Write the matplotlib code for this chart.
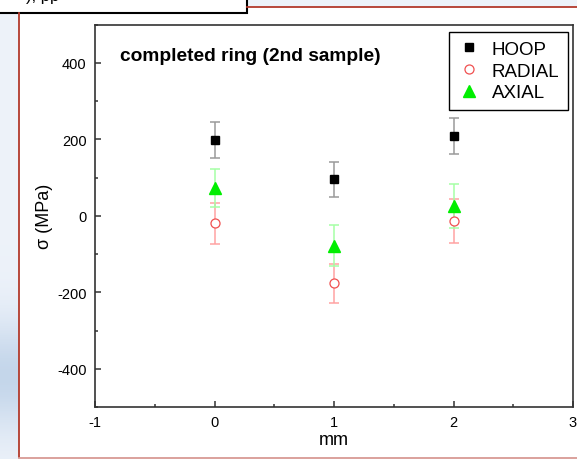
import matplotlib.pyplot as plt
import matplotlib.patches as patches
import numpy as np

plt.rcParams['font.family'] = ['Liberation Sans', 'DejaVu Sans']
plt.rcParams['axes.unicode_minus'] = False

# Measured stresses along the ring [MPa]
positions = [0, 1, 2]  # [mm]
hoop = [198, 95, 208]
hoop_err = [46, 46, 47]
radial = [-20, -177, -14]
radial_err = [53, 51, 57]
axial = [72, -78, 25]
axial_err = [50, 53, 57]

W, H = 577, 460
fig = plt.figure(figsize=(W / 100, H / 100), dpi=100, facecolor='white')

# Slide background in pixel coordinates
bg = fig.add_axes([0, 0, 1, 1], zorder=-1)
bg.set_xlim(0, W)
bg.set_ylim(H, 0)
bg.axis('off')

# left bluish strip, a bit darker towards the bottom
shade = np.linspace(0, 1, 200)
shade = np.exp(-((shade - 0.82) / 0.12) ** 2)
strip = np.zeros((200, 1, 3))
strip[:, 0, 0] = 0.93 - 0.16 * shade
strip[:, 0, 1] = 0.95 - 0.11 * shade
strip[:, 0, 2] = 0.98 - 0.06 * shade
bg.imshow(strip, extent=(0, 18.5, H, 0), aspect='auto')
bg.add_patch(patches.Rectangle((247, 0), W - 247, 7.5, color='#edf3fa', lw=0))

# red frame lines
bg.plot([247, W], [7.5, 7.5], color='#b23a2c', lw=1.3)
bg.plot([19, 19], [14, 458], color='#b23a2c', lw=1.3)
bg.plot([19, W], [458.5, 458.5], color='#d89a94', lw=1.3)

# caption box at the top left
bg.add_patch(patches.Rectangle((-2, -2), 249, 16, facecolor='white',
                               edgecolor='black', lw=1.5))
bg.text(26, 1.5, '), pp', fontsize=12, va='baseline', ha='left')

# Main plot
ax = fig.add_axes([95 / W, 1 - 408 / H, (573 - 95) / W, (408 - 25.5) / H])
ax.set_facecolor('white')

ax.errorbar(positions, hoop, yerr=hoop_err, fmt='none', ecolor='#9a9a9a',
            elinewidth=1.1, capsize=3.5, capthick=1.1, zorder=2)
ax.errorbar(positions, radial, yerr=radial_err, fmt='none', ecolor='#ffa3a3',
            elinewidth=1.1, capsize=3.5, capthick=1.1, zorder=2)
ax.errorbar(positions, axial, yerr=axial_err, fmt='none', ecolor='#a6ffa6',
            elinewidth=1.1, capsize=3.5, capthick=1.1, zorder=2)

ax.plot(positions, hoop, 's', color='black', ms=5.5, label='HOOP', zorder=3)
ax.plot(positions, radial, 'o', mfc='white', mec='#f05050', mew=0.9,
        ms=6.5, label='RADIAL', zorder=3)
ax.plot(positions, axial, '^', color='#00ee00', ms=8, label='AXIAL', zorder=3)

ax.set_xlim(-1, 3)
ax.set_ylim(-500, 500)
ax.set_xticks([-1, 0, 1, 2, 3])
ax.set_yticks([-400, -200, 0, 200, 400])
ax.set_xticks(np.arange(-0.5, 3, 1), minor=True)
ax.set_yticks(np.arange(-500, 501, 100), minor=True)
ax.tick_params(which='major', direction='in', length=4.5, width=1.1,
               labelsize=10.5, pad=6, color='#333333', top=False, right=False)
ax.tick_params(which='minor', direction='in', length=2.5, width=1.1,
               color='#333333', top=False, right=False)
for spine in ax.spines.values():
    spine.set_color('#333333')
    spine.set_linewidth(1.2)

ax.set_xlabel('mm', fontsize=13)
ax.set_ylabel('σ (MPa)', fontsize=13)
ax.xaxis.set_label_coords(0.5, -0.062)
ax.yaxis.set_label_coords(-0.088, 0.5)

ax.text(0.052, 0.907, 'completed ring (2nd sample)', transform=ax.transAxes,
        fontsize=13.8, fontweight='bold', va='baseline', ha='left')

leg = ax.legend(loc='upper right', bbox_to_anchor=(0.9895, 0.980),
                borderaxespad=0, fontsize=13.5, frameon=True, fancybox=False,
                framealpha=1, edgecolor='black', handlelength=1.3,
                handletextpad=0.55, labelspacing=0.25, borderpad=0.45)
leg.get_frame().set_linewidth(1.0)

fig.savefig('out.png', dpi=100)
